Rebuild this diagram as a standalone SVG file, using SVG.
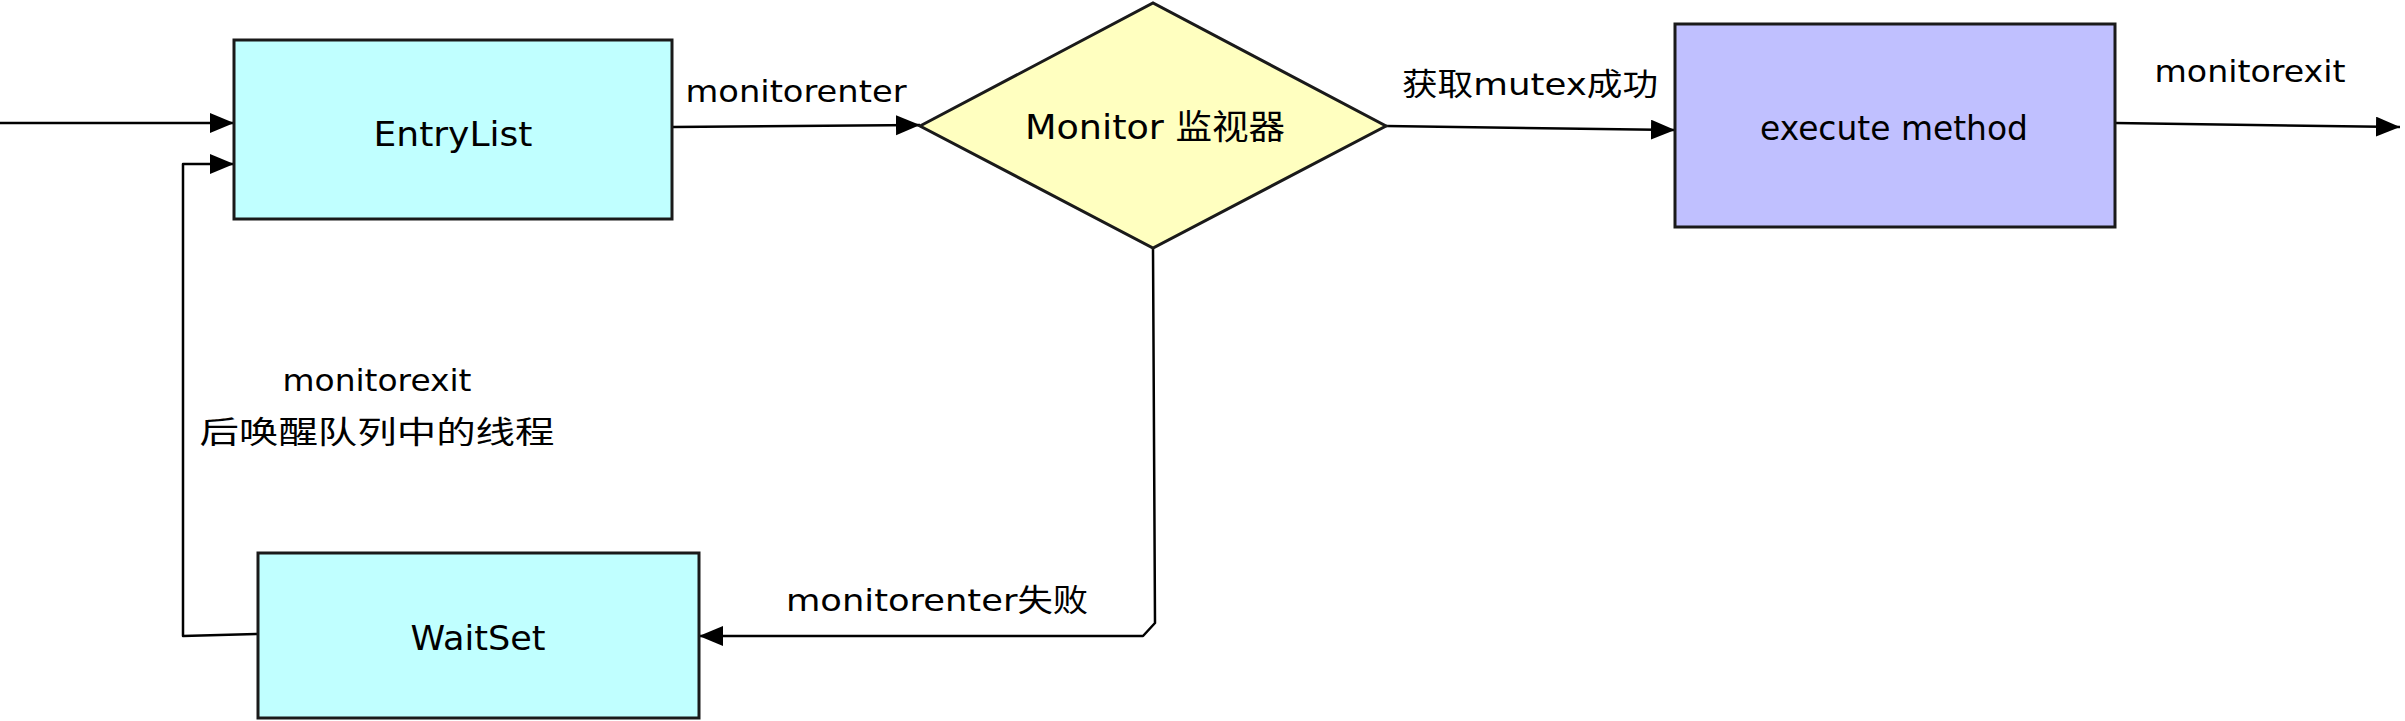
<svg xmlns="http://www.w3.org/2000/svg" width="2405" height="721" viewBox="0 0 2405 721">
<defs>
<style>
.box{stroke:#1a1a1a;stroke-width:3}
.ln{fill:none;stroke:#000;stroke-width:2.5;stroke-linejoin:round}
.t{font-family:"DejaVu Sans","Noto Sans CJK SC",sans-serif;fill:#000;text-anchor:middle}
.n{font-size:34px}
.e{font-size:31px}
</style>
<marker id="ah" markerUnits="userSpaceOnUse" markerWidth="26" markerHeight="22" refX="24" refY="10" orient="auto" viewBox="0 0 26 22">
<path d="M0,0 L24,10 L0,20 z" fill="#000"/>
</marker>
</defs>
<rect width="2405" height="721" fill="#fff"/>
<g id="connectors">
<path class="ln" d="M0,123 L234,123" marker-end="url(#ah)"/>
<path class="ln" d="M258,634 L183,636 L183,164 L234,164" marker-end="url(#ah)"/>
<path class="ln" d="M672,127 L920,125" marker-end="url(#ah)"/>
<path class="ln" d="M1386,126 L1675,130" marker-end="url(#ah)"/>
<path class="ln" d="M2115,123 L2400,127" marker-end="url(#ah)"/>
<path class="ln" d="M1153,248 L1155,623 L1143,636 L699,636" marker-end="url(#ah)"/>
</g>
<g id="labels">
<text class="t e" x="796" y="102" textLength="221" lengthAdjust="spacingAndGlyphs">monitorenter</text>
<text class="t e" x="1530" y="95" textLength="256" lengthAdjust="spacingAndGlyphs">获取mutex成功</text>
<text class="t e" x="2250" y="82" textLength="191" lengthAdjust="spacingAndGlyphs">monitorexit</text>
<text class="t e" x="377" y="391" textLength="189" lengthAdjust="spacingAndGlyphs">monitorexit</text>
<text class="t e" x="377" y="443" textLength="355" lengthAdjust="spacingAndGlyphs">后唤醒队列中的线程</text>
<text class="t e" x="937" y="611" textLength="302" lengthAdjust="spacingAndGlyphs">monitorenter失败</text>
</g>
<g id="EntryList">
<rect class="box" x="234" y="40" width="438" height="179" fill="#c0ffff"/>
<text class="t n" x="453" y="146" textLength="159" lengthAdjust="spacingAndGlyphs">EntryList</text>
</g>
<g id="Monitor">
<path class="box" d="M920,126 L1153,3 L1386,126 L1153,248 Z" fill="#ffffc0"/>
<text class="t n" x="1155" y="139" textLength="260" lengthAdjust="spacingAndGlyphs">Monitor 监视器</text>
</g>
<g id="execute">
<rect class="box" x="1675" y="24" width="440" height="203" fill="#c0c0ff"/>
<text class="t n" x="1894" y="140" textLength="268" lengthAdjust="spacingAndGlyphs">execute method</text>
</g>
<g id="WaitSet">
<rect class="box" x="258" y="553" width="441" height="165" fill="#c0ffff"/>
<text class="t n" x="478" y="650" textLength="135" lengthAdjust="spacingAndGlyphs">WaitSet</text>
</g>
</svg>
